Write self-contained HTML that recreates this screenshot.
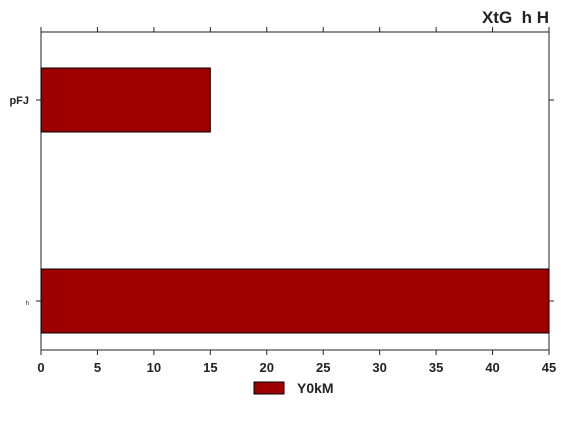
<!DOCTYPE html>
<html><head><meta charset="utf-8"><style>
body{margin:0;background:#fff;}
svg{display:block;font-family:"Liberation Sans",sans-serif;}
</style></head><body>
<svg id="c" width="568" height="426">
<text x="549" y="23" text-anchor="end" font-size="17" font-weight="bold" fill="#222">XtG&#160; h H</text>
<rect x="41" y="32" width="508" height="318" fill="none" stroke="#222" stroke-width="1"/>
<g id="bars"></g><g id="axes"></g>
<g>
<rect x="254" y="382" width="30" height="12" fill="#9e0000" stroke="#000"/>
<text x="297" y="393" font-size="14" font-weight="bold" fill="#222">Y0kM</text>
</g>
</svg>
<script>
const categories=["pFJ","h"];
const values=[15,45];
const xTicks=[0,5,10,15,20,25,30,35,40,45];
const ns="http://www.w3.org/2000/svg";
const L=41,R=549,T=32,B=350;
const x=v=>L+(v-0)/(45-0)*(R-L);
const yc=i=>100+i*201;
const bars=document.getElementById('bars'),axes=document.getElementById('axes');
function mk(tag,a,p){const e=document.createElementNS(ns,tag);for(const k in a)e.setAttribute(k,a[k]);p.appendChild(e);return e;}
values.forEach((v,i)=>{
 const r=mk('rect',{x:x(0),y:yc(i)-32,width:x(v)-x(0),height:64,fill:'#9e0000',stroke:'#000','stroke-width':1},bars);
 
 
 const t1=mk('line',{x1:L-5,x2:L,y1:yc(i),y2:yc(i),stroke:'#222'},axes);
 
 
 const t2=mk('line',{x1:R,x2:R+5,y1:yc(i),y2:yc(i),stroke:'#222'},axes);
 
 
 const lb=mk('text',{x:L-12,y:yc(i)+4,'text-anchor':'end','font-size':i==0?11:6,'font-weight':i==0?'bold':'normal',fill:'#222'},axes);
 lb.textContent=categories[i];
 
 
});
xTicks.forEach(v=>{
 const a=mk('line',{x1:x(v),x2:x(v),y1:B,y2:B+5,stroke:'#222'},axes);
 
 
 const b=mk('line',{x1:x(v),x2:x(v),y1:T-5,y2:T,stroke:'#222'},axes);
 
 
 const t=mk('text',{x:x(v),y:B+22,'text-anchor':'middle','font-size':13,'font-weight':'bold',fill:'#222'},axes);
 t.textContent=v;
 
 
});
</script>
</body></html>
